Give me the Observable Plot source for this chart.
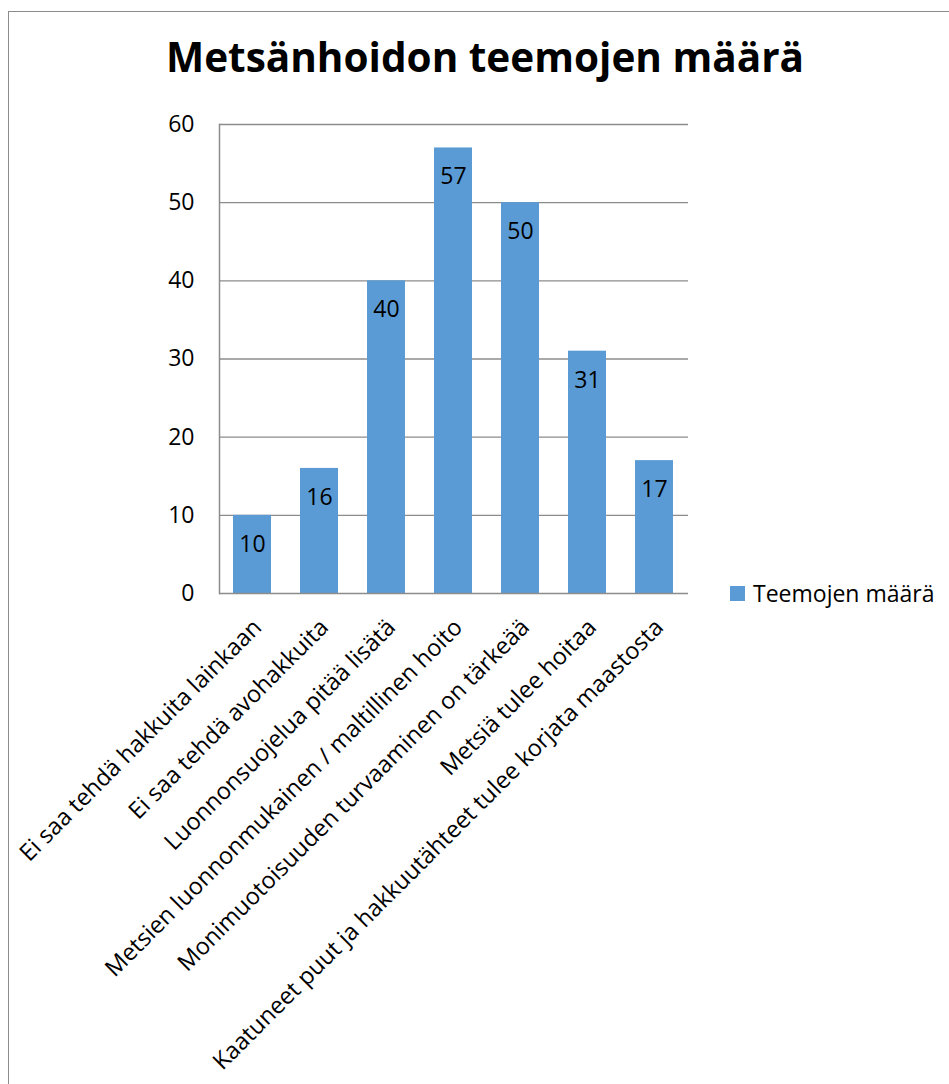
<!DOCTYPE html>
<html>
<head>
<meta charset="utf-8">
<script src="https://cdn.jsdelivr.net/npm/d3@7"></script>
<script src="https://cdn.jsdelivr.net/npm/@observablehq/plot@0.6"></script>
<style>
  html, body { margin: 0; padding: 0; background: #fff; }
  body { width: 949px; height: 1084px; position: relative; overflow: hidden; font-family: "Open Sans", sans-serif; }
  #border { position: absolute; left: 8px; top: 11px; width: 960px; height: 1100px; border: 1.5px solid #8c8c8c; box-sizing: border-box; }
  #title { position: absolute; left: 0; width: 970px; top: 37px; text-align: center; font-size: 40.5px; font-weight: 700; color: #000; line-height: 1; }
  #chart { position: absolute; left: 0; top: 0; }
  #legend { position: absolute; left: 730px; top: 577px; font-size: 23px; color: #000; display: flex; align-items: center; white-space: nowrap; }
  #legend .sw { width: 15px; height: 15px; background: #5B9BD5; margin-right: 8px; }
</style>
</head>
<body>
<div id="border"></div>
<div id="title">Metsänhoidon teemojen määrä</div>
<div id="chart"></div>
<div id="legend"><span class="sw"></span><span>Teemojen määrä</span></div>
<script>
const categories = [
  "Ei saa tehdä hakkuita lainkaan",
  "Ei saa tehdä avohakkuita",
  "Luonnonsuojelua pitää lisätä",
  "Metsien luonnonmukainen / maltillinen hoito",
  "Monimuotoisuuden turvaaminen on tärkeää",
  "Metsiä tulee hoitaa",
  "Kaatuneet puut ja hakkuutähteet tulee korjata maastosta"
];
const values = [10, 16, 40, 57, 50, 31, 17];
const yTicks = [0, 10, 20, 30, 40, 50, 60];
const seriesName = "Teemojen määrä";

const data = categories.map((c, i) => ({category: c, value: values[i]}));

const chart = Plot.plot({
  width: 949,
  height: 1084,
  marginLeft: 219,
  marginRight: 261,
  marginTop: 124,
  marginBottom: 491,
  style: {fontFamily: "Open Sans, sans-serif", background: "transparent", overflow: "visible"},
  x: {domain: categories, paddingInner: 0.43, paddingOuter: 0.21, label: null},
  y: {domain: [0, 60], label: null},
  marks: [
    Plot.ruleY(yTicks.filter(d => d > 0), {stroke: "#8c8c8c", strokeWidth: 1.3}),
    Plot.barY(data, {x: "category", y: "value", fill: "#5B9BD5"}),
    Plot.ruleY([0], {stroke: "#8c8c8c", strokeWidth: 1.5}),
    Plot.frame({anchor: "left", stroke: "#8c8c8c", strokeWidth: 1.5}),
    Plot.text(data, {x: "category", y: "value", text: d => String(d.value), dy: 29, fontSize: 23, fill: "#000"}),
    Plot.axisY({ticks: yTicks, tickSize: 0, tickPadding: 25, fontSize: 23, label: null, tickFormat: d => String(d)}),
    Plot.axisX({tickSize: 0, tickRotate: -45, tickPadding: 30, dx: 5, fontSize: 23.5, label: null})
  ]
});
chart.style.color = "#000";
document.getElementById("chart").appendChild(chart);
</script>
</body>
</html>
